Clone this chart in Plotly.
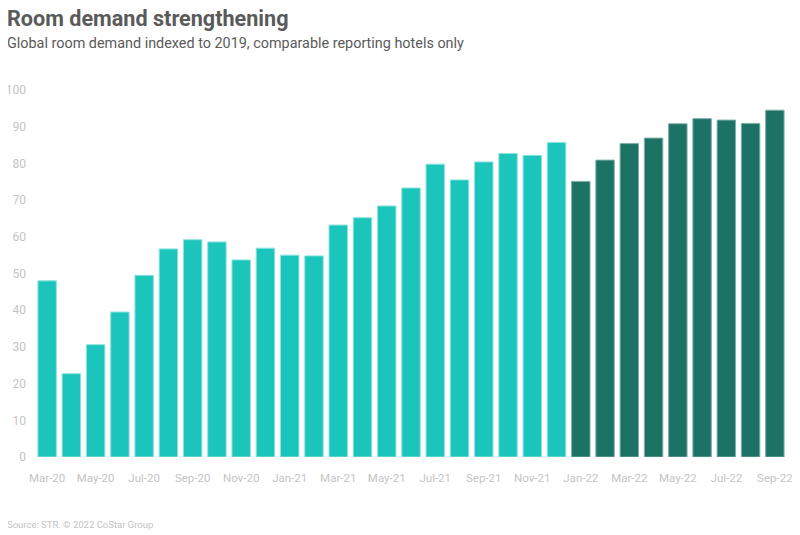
import plotly.graph_objects as go

months_2020_21 = ["Mar-20", "Apr-20", "May-20", "Jun-20", "Jul-20", "Aug-20", "Sep-20", "Oct-20",
                  "Nov-20", "Dec-20", "Jan-21", "Feb-21", "Mar-21", "Apr-21", "May-21", "Jun-21",
                  "Jul-21", "Aug-21", "Sep-21", "Oct-21", "Nov-21", "Dec-21"]
values_2020_21 = [48.0, 22.7, 30.6, 39.5, 49.5, 56.7, 59.2, 58.6, 53.7, 56.9, 55.0, 54.8,
                  63.2, 65.2, 68.4, 73.3, 79.8, 75.5, 80.4, 82.7, 82.2, 85.7]
months_2022 = ["Jan-22", "Feb-22", "Mar-22", "Apr-22", "May-22", "Jun-22", "Jul-22", "Aug-22", "Sep-22"]
values_2022 = [75.1, 80.9, 85.4, 86.9, 90.8, 92.2, 91.8, 90.9, 94.5]
y_ticks = [0, 10, 20, 30, 40, 50, 60, 70, 80, 90, 100]

all_months = months_2020_21 + months_2022
x_ticks = all_months[::2]

L, R, T, B = 27, 21, 82, 86
W, H = 800, 535
PW, PH = W - L - R, H - T - B

def px_x(sx):
    return (sx - 8 - L) / PW

def px_y(sy):
    return (H - B - (sy - 8)) / PH

fig = go.Figure()
fig.add_trace(go.Bar(x=months_2020_21, y=values_2020_21, name="2020-21",
                     marker=dict(color="#1BC5BC", line=dict(color="#8EE3DD", width=1))))
fig.add_trace(go.Bar(x=months_2022, y=values_2022, name="2022",
                     marker=dict(color="#1B7265", line=dict(color="#7FAFA7", width=1))))

fig.update_layout(
    width=W, height=H,
    margin=dict(l=L, r=R, t=T, b=B, autoexpand=False),
    paper_bgcolor="white", plot_bgcolor="white",
    showlegend=False,
    bargap=0.24,
    font=dict(family="Roboto", color="#c4c4c4", size=12),
    xaxis=dict(categoryorder="array", categoryarray=all_months, tickvals=x_ticks,
               showgrid=False, showline=False, zeroline=False, ticks="", automargin=False,
               ticklabelstandoff=12, tickfont=dict(size=11.5, color="#c4c4c4")),
    yaxis=dict(range=[0, 100], tickvals=y_ticks, showgrid=False, showline=False,
               zeroline=False, ticks="", ticklabelstandoff=8, automargin=False,
               tickfont=dict(size=12, color="#c4c4c4")),
)

fig.add_annotation(text="<b>Room demand strengthening</b>", xref="paper", yref="paper",
                   x=px_x(5), y=px_y(18), xanchor="left", yanchor="middle",
                   font=dict(family="Roboto", size=21.6, color="#5a5a5a"), showarrow=False)
fig.add_annotation(text="Global room demand indexed to 2019, comparable reporting hotels only",
                   xref="paper", yref="paper", x=px_x(5), y=px_y(44), xanchor="left", yanchor="middle",
                   font=dict(family="Roboto", size=14.4, color="#5a5a5a"), showarrow=False)
fig.add_annotation(text="Source: STR. © 2022 CoStar Group",
                   xref="paper", yref="paper", x=px_x(5), y=px_y(524), xanchor="left", yanchor="middle",
                   font=dict(family="Roboto", size=9.5, color="#c4c4c4"), showarrow=False)
fig.write_html("out.html")
